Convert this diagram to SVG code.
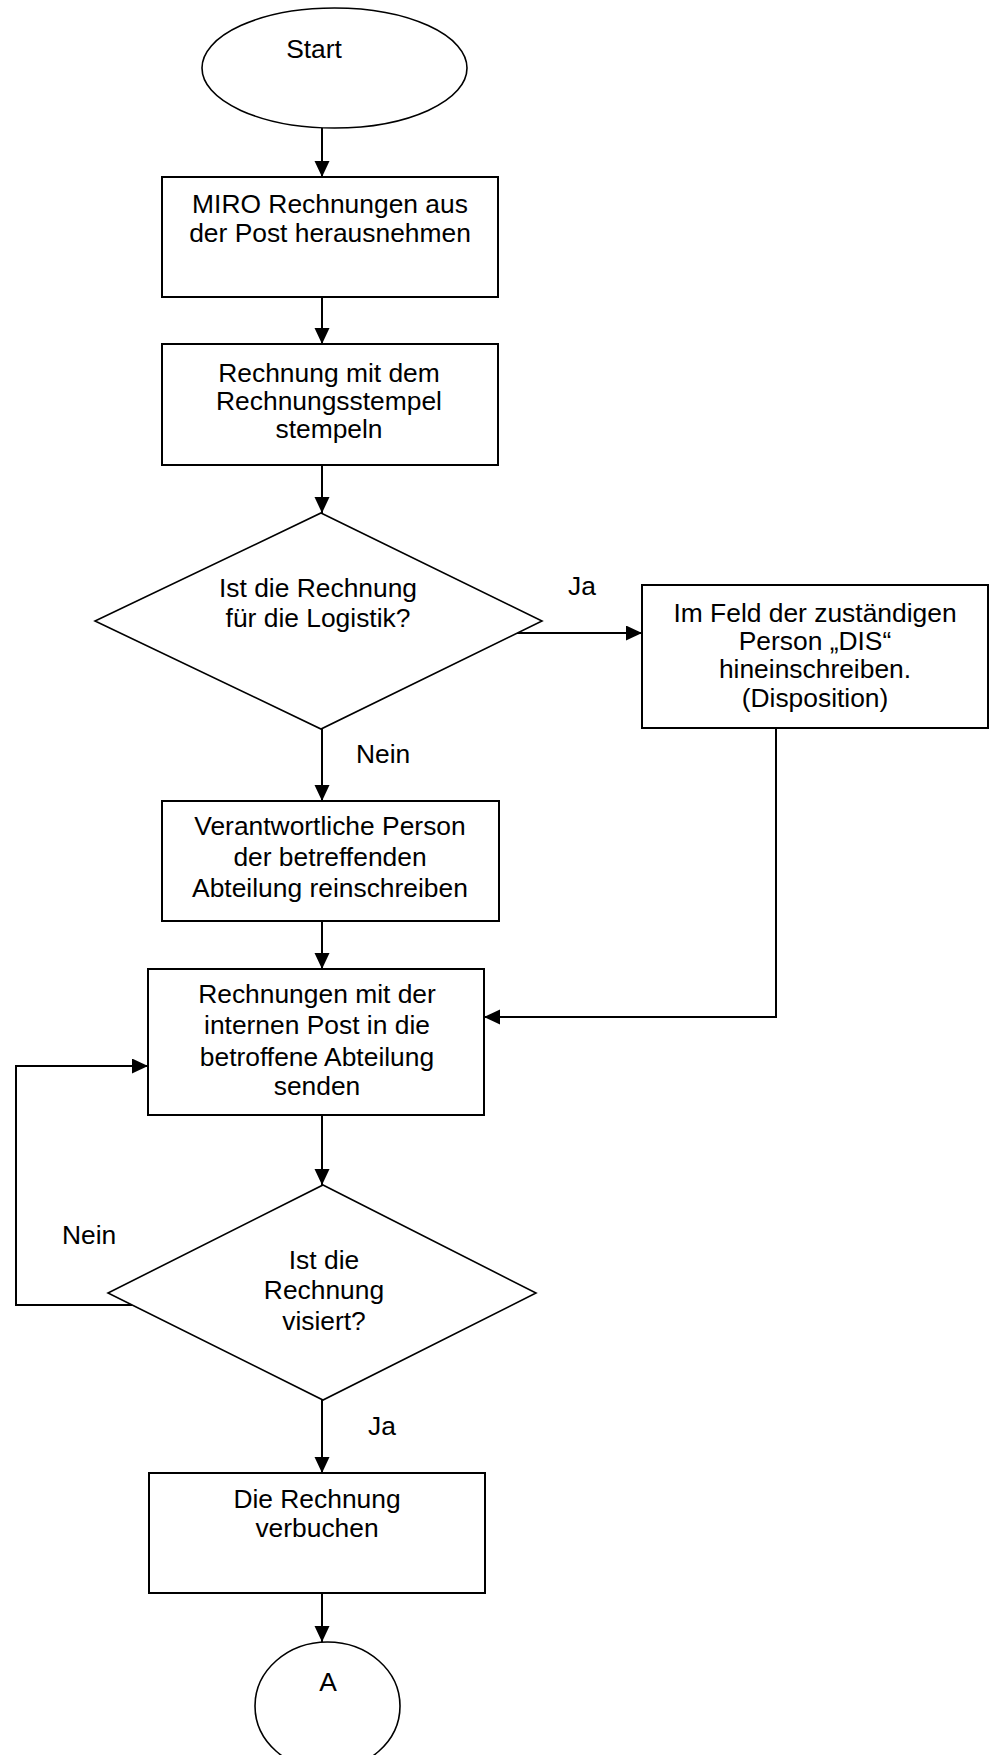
<svg xmlns="http://www.w3.org/2000/svg" width="989" height="1755" viewBox="0 0 989 1755">
  <style>
    .shape { fill: #ffffff; stroke: #000000; stroke-width: 2; }
    .thin { fill: #ffffff; stroke: #000000; stroke-width: 1.6; }
    .conn { fill: none; stroke: #000000; stroke-width: 2; }
    text { font-family: "Liberation Sans", Arial, sans-serif; font-size: 26.4px; fill: #000000; }
    .c { text-anchor: middle; }
  </style>
  <defs>
    <marker id="arrow" markerUnits="userSpaceOnUse" markerWidth="17" markerHeight="16" refX="16" refY="7.5" orient="auto">
      <path d="M0,0 L16,7.5 L0,15 z" fill="#000000"/>
    </marker>
  </defs>
  <rect width="989" height="1755" fill="#ffffff"/>

  <g id="connectors">
    <line class="conn" x1="322" y1="128" x2="322" y2="177" marker-end="url(#arrow)"/>
    <line class="conn" x1="322" y1="297" x2="322" y2="344" marker-end="url(#arrow)"/>
    <line class="conn" x1="322" y1="465" x2="322" y2="513" marker-end="url(#arrow)"/>
    <line class="conn" x1="517" y1="633" x2="642" y2="633" marker-end="url(#arrow)"/>
    <line class="conn" x1="322" y1="729" x2="322" y2="801" marker-end="url(#arrow)"/>
    <line class="conn" x1="322" y1="921" x2="322" y2="969" marker-end="url(#arrow)"/>
    <polyline class="conn" points="776,728 776,1017 484,1017" marker-end="url(#arrow)"/>
    <line class="conn" x1="322" y1="1115" x2="322" y2="1185" marker-end="url(#arrow)"/>
    <polyline class="conn" points="132,1305 16,1305 16,1066 148,1066" marker-end="url(#arrow)"/>
    <line class="conn" x1="322" y1="1400" x2="322" y2="1473" marker-end="url(#arrow)"/>
    <line class="conn" x1="322" y1="1593" x2="322" y2="1642" marker-end="url(#arrow)"/>
    <text x="568" y="595">Ja</text>
    <text x="356" y="763">Nein</text>
    <text x="62" y="1244">Nein</text>
    <text x="368" y="1435">Ja</text>
  </g>

  <g id="start">
    <ellipse class="thin" cx="334.5" cy="68" rx="132.5" ry="60"/>
    <text class="c" x="314" y="58">Start</text>
  </g>

  <g id="box1">
    <rect class="shape" x="162" y="177" width="336" height="120"/>
    <text class="c" x="330" y="213">MIRO Rechnungen aus</text>
    <text class="c" x="330" y="242">der Post herausnehmen</text>
  </g>

  <g id="box2">
    <rect class="shape" x="162" y="344" width="336" height="121"/>
    <text class="c" x="329" y="382">Rechnung mit dem</text>
    <text class="c" x="329" y="410">Rechnungsstempel</text>
    <text class="c" x="329" y="438">stempeln</text>
  </g>

  <g id="decision1">
    <polygon class="thin" points="321,513 542,621 321,729 95,621"/>
    <text class="c" x="318" y="597">Ist die Rechnung</text>
    <text class="c" x="318" y="627">für die Logistik?</text>
  </g>

  <g id="box3">
    <rect class="shape" x="642" y="585" width="346" height="143"/>
    <text class="c" x="815" y="622">Im Feld der zuständigen</text>
    <text class="c" x="815" y="650">Person „DIS“</text>
    <text class="c" x="815" y="678">hineinschreiben.</text>
    <text class="c" x="815" y="707">(Disposition)</text>
  </g>

  <g id="box4">
    <rect class="shape" x="162" y="801" width="337" height="120"/>
    <text class="c" x="330" y="835">Verantwortliche Person</text>
    <text class="c" x="330" y="866">der betreffenden</text>
    <text class="c" x="330" y="897">Abteilung reinschreiben</text>
  </g>

  <g id="box5">
    <rect class="shape" x="148" y="969" width="336" height="146"/>
    <text class="c" x="317" y="1003">Rechnungen mit der</text>
    <text class="c" x="317" y="1034">internen Post in die</text>
    <text class="c" x="317" y="1066">betroffene Abteilung</text>
    <text class="c" x="317" y="1095">senden</text>
  </g>

  <g id="decision2">
    <polygon class="thin" points="323,1185 536,1293 323,1400 108,1293"/>
    <text class="c" x="324" y="1269">Ist die</text>
    <text class="c" x="324" y="1299">Rechnung</text>
    <text class="c" x="324" y="1330">visiert?</text>
  </g>

  <g id="box6">
    <rect class="shape" x="149" y="1473" width="336" height="120"/>
    <text class="c" x="317" y="1508">Die Rechnung</text>
    <text class="c" x="317" y="1537">verbuchen</text>
  </g>

  <g id="connectorA">
    <ellipse class="thin" cx="327.5" cy="1706" rx="72.5" ry="64"/>
    <text class="c" x="328" y="1691">A</text>
  </g>
</svg>
